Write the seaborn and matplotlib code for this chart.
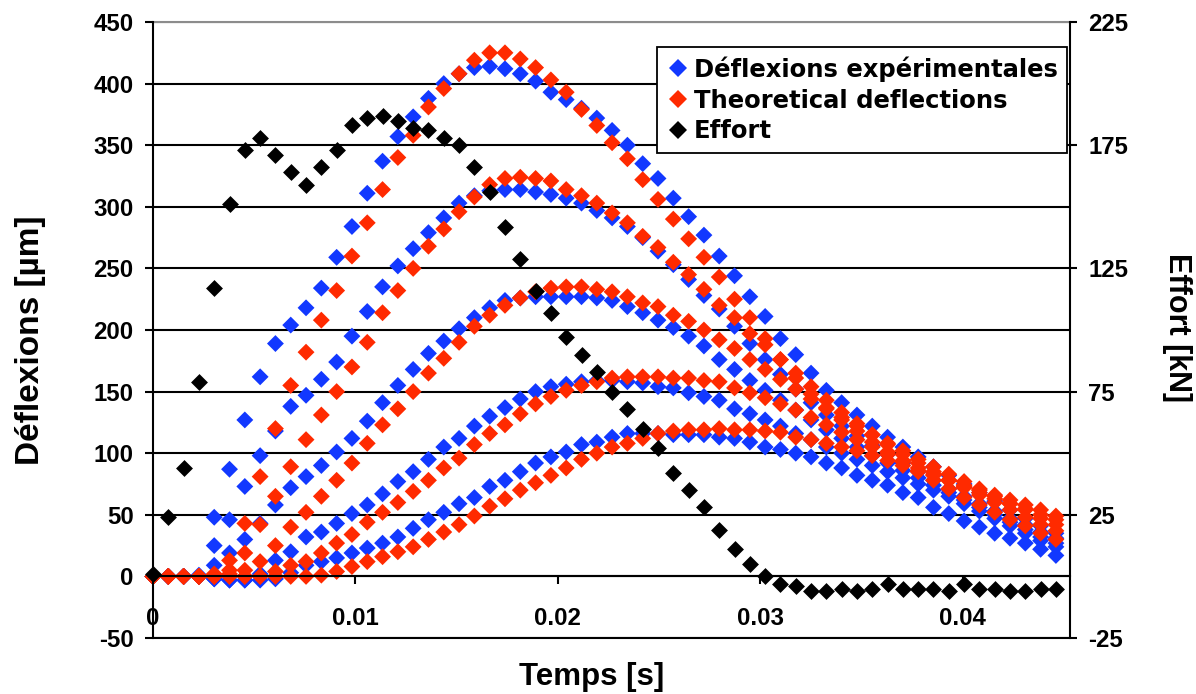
import matplotlib
matplotlib.use("Agg")
import matplotlib.pyplot as plt
import pandas as pd
import seaborn as sns
from matplotlib.lines import Line2D

# ---------------- data ----------------
time_s = [0.0, 0.000756, 0.001512, 0.002268, 0.003024, 0.00378, 0.004536, 0.005292, 0.006048, 0.006804,
          0.00756, 0.008316, 0.009072, 0.009828, 0.010584, 0.01134, 0.012096, 0.012852, 0.013608, 0.014364,
          0.01512, 0.015876, 0.016632, 0.017388, 0.018144, 0.0189, 0.019656, 0.020412, 0.021168, 0.021924,
          0.02268, 0.023436, 0.024192, 0.024948, 0.025704, 0.02646, 0.027216, 0.027972, 0.028728, 0.029484,
          0.03024, 0.030996, 0.031752, 0.032508, 0.033264, 0.03402, 0.034776, 0.035532, 0.036288, 0.037044,
          0.0378, 0.038556, 0.039312, 0.040068, 0.040824, 0.04158, 0.042336, 0.043092, 0.043848, 0.044604]

# experimental deflections (um), five gauges
exp_1 = [0, 0, 0, 1, 48, 87, 127, 162, 189, 204,
         218, 234, 259, 284, 311, 337, 357, 373, 388, 400,
         408, 413, 414, 412, 408, 402, 393, 387, 380, 372,
         362, 350, 335, 323, 307, 292, 277, 260, 244, 227,
         211, 193, 180, 165, 151, 141, 131, 122, 113, 105,
         97, 89, 82, 75, 68, 61, 54, 47, 41, 35]
exp_2 = [0, 0, 0, 0, 25, 46, 73, 98, 118, 138,
         147, 160, 174, 195, 215, 235, 252, 266, 279, 291,
         303, 309, 313, 314, 314, 312, 310, 307, 303, 297,
         291, 284, 275, 264, 253, 241, 228, 217, 203, 189,
         176, 164, 152, 141, 131, 122, 114, 106, 99, 92,
         85, 78, 71, 65, 59, 53, 47, 42, 36, 31]
exp_3 = [0, 0, 0, 0, 9, 19, 30, 43, 58, 72,
         81, 90, 101, 112, 126, 141, 155, 168, 181, 191,
         201, 210, 218, 224, 226, 227, 227, 227, 227, 226,
         224, 219, 214, 208, 202, 195, 187, 176, 168, 159,
         151, 143, 135, 127, 119, 112, 105, 98, 92, 86,
         80, 74, 68, 62, 56, 50, 44, 38, 32, 27]
exp_4 = [0, 0, 0, 0, -2, -3, -3, 2, 13, 20,
         32, 36, 43, 51, 58, 67, 77, 85, 95, 105,
         112, 122, 130, 137, 144, 150, 154, 156, 158, 159,
         159, 158, 157, 154, 153, 149, 146, 143, 136, 132,
         127, 122, 116, 111, 105, 100, 95, 90, 85, 80,
         75, 70, 65, 59, 53, 47, 41, 35, 29, 24]
exp_5 = [0, 0, 0, 0, -2, -3, -3, -3, -2, 3,
         9, 12, 15, 19, 23, 27, 32, 39, 46, 52,
         59, 64, 73, 78, 85, 92, 97, 101, 107, 109,
         113, 116, 116, 116, 115, 115, 115, 113, 112, 109,
         105, 103, 100, 97, 92, 88, 82, 78, 74, 68,
         64, 56, 51, 45, 40, 35, 31, 27, 22, 17]

# theoretical deflections (um), five gauges
theo_1 = [0, 0, 0, 0, 2, 13, 43, 81, 120, 155,
          182, 208, 232, 260, 287, 314, 340, 358, 381, 396,
          408, 419, 425, 425, 420, 413, 403, 393, 379, 366,
          352, 339, 322, 306, 290, 274, 259, 243, 225, 210,
          193, 176, 161, 148, 137, 127, 118, 109, 101, 93,
          85, 78, 71, 64, 58, 52, 46, 41, 35, 30]
theo_2 = [0, 0, 0, 0, 1, 5, 19, 42, 65, 89,
          111, 131, 150, 170, 190, 214, 232, 250, 268, 282,
          296, 308, 318, 323, 324, 323, 321, 314, 309, 303,
          295, 287, 276, 267, 255, 245, 233, 220, 210, 197,
          188, 176, 165, 154, 143, 133, 124, 115, 107, 99,
          92, 85, 78, 72, 66, 60, 54, 48, 42, 37]
theo_3 = [0, 0, 0, 0, 0, 2, 5, 12, 25, 40,
          52, 65, 78, 92, 108, 123, 136, 150, 165, 177,
          190, 203, 212, 220, 226, 231, 234, 235, 235, 233,
          231, 227, 222, 219, 212, 207, 200, 192, 185, 176,
          168, 160, 152, 144, 136, 129, 122, 115, 108, 102,
          95, 89, 83, 77, 71, 65, 59, 54, 47, 42]
theo_4 = [0, 0, 0, 0, 0, 0, 0, 0, 4, 9,
          12, 19, 27, 34, 44, 52, 60, 69, 78, 88,
          96, 107, 116, 123, 132, 140, 146, 151, 155, 158,
          161, 162, 162, 162, 161, 161, 159, 158, 153, 149,
          145, 140, 135, 129, 123, 117, 111, 105, 99, 94,
          88, 83, 78, 73, 68, 63, 59, 55, 50, 46]
theo_5 = [0, 0, 0, 0, 0, 0, 0, 0, 0, 0,
          0, 1, 4, 8, 12, 16, 20, 24, 30, 36,
          42, 49, 57, 63, 70, 76, 82, 88, 95, 100,
          105, 108, 112, 116, 118, 119, 119, 120, 119, 119,
          118, 117, 113, 111, 108, 105, 102, 98, 94, 90,
          86, 82, 78, 74, 70, 66, 62, 58, 54, 49]

# applied load (kN), right axis
effort_kN = [1, 24, 44, 79, 117, 151, 173, 178, 171, 164,
             159, 166, 173, 183, 186, 187, 185, 182, 181, 178,
             175, 166, 156, 142, 129, 116, 107, 97, 90, 83,
             75, 68, 60, 52, 42, 35, 28, 19, 11, 5,
             0, -3, -4, -6, -6, -5, -6, -5, -3, -5,
             -5, -5, -6, -3, -5, -5, -6, -6, -5, -5]

series_labels = ["Déflexions expérimentales", "Theoretical deflections", "Effort"]
x_ticks = [0, 0.01, 0.02, 0.03, 0.04]
x_tick_labels = ["0", "0.01", "0.02", "0.03", "0.04"]
left_ticks = [-50, 0, 50, 100, 150, 200, 250, 300, 350, 400, 450]
right_ticks = [-25, 25, 75, 125, 175, 225]

BLUE = "#1238ff"
RED = "#ff2a00"
BLACK = "#000000"

# ---------------- styling ----------------
sns.set_theme(style="white")
plt.rcParams["font.family"] = ["Liberation Sans", "DejaVu Sans"]
plt.rcParams["font.weight"] = "bold"
plt.rcParams["axes.labelweight"] = "bold"

rows = []
for curve in (exp_1, exp_2, exp_3, exp_4, exp_5):
    for t, v in zip(time_s, curve):
        rows.append((t, v, series_labels[0]))
for curve in (theo_1, theo_2, theo_3, theo_4, theo_5):
    for t, v in zip(time_s, curve):
        rows.append((t, v, series_labels[1]))
defl = pd.DataFrame(rows, columns=["t", "v", "kind"])
load = pd.DataFrame({"t": time_s, "f": effort_kN})

W, H = 1196, 694
fig = plt.figure(figsize=(W / 100, H / 100), dpi=100)
L, R, T, B = 153, 1070, 22, 638
ax = fig.add_axes([L / W, 1 - B / H, (R - L) / W, (B - T) / H])

MS = 74
sns.scatterplot(data=defl, x="t", y="v", hue="kind",
                palette={series_labels[0]: BLUE, series_labels[1]: RED},
                marker="D", s=MS, linewidth=0, legend=False, ax=ax)
for c in ax.collections:
    c.set_clip_on(False)

ax.set_xlim(0, 0.0453)
ax.set_ylim(-50, 450)
ax.set_axisbelow(True)
ax.set_yticks(left_ticks)
ax.set_yticklabels([str(v) for v in left_ticks])
ax.set_xticks(x_ticks)
ax.set_xticklabels(x_tick_labels)
ax.yaxis.grid(True, color="black", linewidth=1.5)
ax.xaxis.grid(False)
ax.axhline(-50, color="black", linewidth=1.5, clip_on=False, zorder=0.6)
ax.axhline(450, color="#8c8c8c", linewidth=1.5, clip_on=False, zorder=0.6)

ax.spines["top"].set_visible(False)
ax.spines["right"].set_visible(False)
ax.spines["left"].set_color("black")
ax.spines["left"].set_linewidth(1.5)
ax.spines["bottom"].set_color("black")
ax.spines["bottom"].set_linewidth(1.5)
ax.spines["bottom"].set_position(("data", 0))

ax.tick_params(axis="y", left=True, direction="out", length=6, width=1.5,
               pad=8, labelsize=17.3, colors="black")
ax.tick_params(axis="x", bottom=True, direction="out", length=6, width=1.5,
               pad=16, labelsize=17.3, colors="black")
for lab in ax.get_xticklabels() + ax.get_yticklabels():
    lab.set_fontweight("bold")

ax.set_xlabel("Temps [s]", fontsize=22.5, fontweight="bold", color="black")
ax.xaxis.set_label_coords((592 - L) / (R - L), (B - 677) / (B - T))
ax.xaxis.label.set_verticalalignment("center")
ax.set_ylabel("Déflexions [µm]", fontsize=24, fontweight="bold", color="black")
ax.yaxis.set_label_coords((31 - L) / (R - L), (B - 340) / (B - T))
ax.yaxis.label.set_verticalalignment("center")

# secondary axis: load
ax2 = ax.twinx()
sns.scatterplot(data=load, x="t", y="f", color=BLACK, marker="D", s=MS,
                linewidth=0, legend=False, ax=ax2)
for c in ax2.collections:
    c.set_clip_on(False)
ax2.set_ylim(-25, 225)
ax2.set_yticks(right_ticks)
ax2.set_yticklabels([str(v) for v in right_ticks])
for side in ("top", "bottom", "left"):
    ax2.spines[side].set_visible(False)
ax2.spines["right"].set_color("black")
ax2.spines["right"].set_linewidth(1.5)
ax2.tick_params(axis="y", right=True, direction="out", length=5, width=1.5,
                pad=8, labelsize=17.3, colors="black")
for lab in ax2.get_yticklabels():
    lab.set_fontweight("bold")
ax2.set_ylabel("Effort [kN]", fontsize=22, fontweight="bold", color="black",
               rotation=270)
ax2.yaxis.set_label_coords((1177 - L) / (R - L), (B - 328) / (B - T))
ax2.yaxis.label.set_verticalalignment("center")
ax2.set_xlim(0, 0.0453)

handles = [Line2D([], [], marker="D", linestyle="None", color=col, markersize=9,
                  markeredgewidth=0)
           for col in (BLUE, RED, BLACK)]
leg = ax2.legend(handles, series_labels, loc="upper left",
                 bbox_to_anchor=((657 - L) / (R - L), (B - 47) / (B - T)),
                 frameon=True, fancybox=False, shadow=False, framealpha=1,
                 edgecolor="black", facecolor="white", borderpad=0.38,
                 labelspacing=0.28, handlelength=1.0, handletextpad=0.15,
                 borderaxespad=0,
                 prop={"family": "DejaVu Sans", "weight": "bold", "size": 17.5})
leg.get_frame().set_linewidth(1.3)
for txt in leg.get_texts():
    txt.set_color("black")

fig.savefig("out.png", dpi=100)
